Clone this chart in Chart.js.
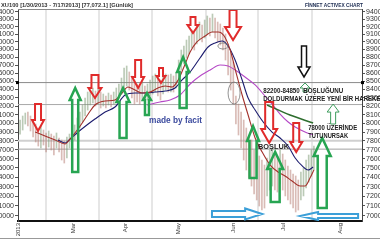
<!DOCTYPE html>
<html lang="tr">
<head>
<meta charset="UTF-8">
<title>XU100 Günlük</title>
<script src="https://cdn.jsdelivr.net/npm/chart.js"></script>
<style>
  html, body { margin: 0; padding: 0; background: #fff; }
  #wrap { width: 380px; height: 240px; }
</style>
</head>
<body>
<div id="wrap"><canvas id="chart" width="380" height="240"></canvas></div>
<script>
// daily bars, 30 Jan - 17 Jul 2013 (high / low per session)
const highs = [80380, 80850, 81200, 81320, 80850, 80270, 79920, 79460, 79690, 79230,
  78890, 79120, 78770, 78550, 78890, 78320, 78090, 77980, 78430, 78770,
  79000, 79810, 80620, 81320, 82150, 82980, 83700, 83940, 84190, 83820,
  84070, 83700, 83460, 83220, 83580, 83340, 83700, 84190, 84680, 85410,
  86660, 86910, 86160, 85660, 85170, 84680, 84430, 84920, 84430, 84680,
  85170, 85660, 85910, 85660, 85170, 85660, 85910, 85790, 85910, 85660,
  86160, 87660, 88940, 89460, 90230, 90760, 91550, 91290, 92080, 92610,
  92210, 92880, 93420, 93150, 93690, 93150, 92610, 92350, 91810, 91020,
  89720, 88680, 87410, 83220, 82260, 81320, 80380, 79460, 78550, 78090,
  76970, 77420, 76310, 75870, 75320, 76090, 76970, 77200, 76750, 76310,
  76970, 76530, 75870, 75220, 74780, 74350, 74140, 73710, 74570, 75000,
  75870, 76420, 76970, 77420];
const lows = [78770, 79230, 79920, 79690, 79120, 78430, 77870, 77420, 77200, 77530,
  76750, 77310, 76970, 76420, 77200, 76750, 75870, 75540, 76090, 77200,
  77530, 78090, 78660, 79460, 80150, 80850, 81550, 82150, 82380, 82030,
  82260, 81790, 82030, 81790, 82150, 81910, 82260, 82620, 82980, 83460,
  83940, 84430, 83940, 82980, 82260, 82500, 82260, 82740, 82150, 82740,
  83220, 83460, 83700, 83220, 82740, 83460, 83940, 83700, 83700, 83700,
  84190, 85170, 86410, 87160, 87920, 88430, 89200, 88940, 89720, 90230,
  89980, 90500, 91020, 90760, 91290, 90500, 89980, 89590, 88940, 87660,
  85790, 83940, 82260, 79920, 78660, 77200, 75870, 74780, 73920, 73070,
  72230, 71610, 70990, 70580, 70780, 72030, 72650, 73070, 72650, 72440,
  73280, 72650, 72030, 71610, 71200, 70790, 70380, 70580, 71610, 72030,
  72860, 73490, 74140, 74780];

// moving averages, read at points along each curve (x = session number)
const redX = [5.8, 9.6, 13.5, 17.3, 19.2, 23.1, 26.2, 28.8, 32.7, 36.5, 39.2, 41.5, 44.2, 46.9,
  50, 53, 55.8, 58.5, 60.8, 63.5, 65.4, 68, 71.2, 73.8, 76.2, 78.5, 80.8, 83, 85.4, 87.7,
  90.4, 93.1, 96.2, 99.2, 101.9, 104.6, 107.7, 109.6, 111.5, 113];
const redY = [79000, 78550, 78090, 77650, 78200, 79690, 81080, 82150, 82620, 82740, 83580, 84310, 83940, 83580,
  83700, 84190, 84430, 84310, 85170, 87160, 88680, 89980, 90760, 91290, 91290, 90760, 88940, 86160, 83340, 80970,
  78320, 76750, 75320, 74570, 74140, 73600, 73070, 73070, 73920, 74780];
const blueX = [14.6, 17.3, 19.2, 22.3, 26.2, 28.8, 32.7, 36.5, 40.4, 44.2, 48.1, 51.9, 55.8, 59.6,
  62.3, 65.4, 69.2, 72.3, 75, 77.7, 80, 82.7, 85.4, 87.7, 90.4, 93.5, 96.9, 100, 103.1,
  105.8, 108.5, 110.8, 112.7];
const blueY = [78090, 77760, 78200, 79000, 79920, 80500, 81320, 81910, 83340, 83580, 83580, 83700, 83820, 84190,
  85170, 86160, 87920, 89330, 89850, 90100, 89460, 87660, 85170, 82980, 81550, 80150, 79000, 78320, 77420,
  76090, 75220, 74780, 75110];
const magX = [48.8, 53.8, 57.7, 61.5, 65.4, 69.2, 73.1, 76.9, 80, 82.7, 86.5, 90.4, 94.2, 96.9,
  100, 103.1, 105.8, 109.6, 112.7];
const magY = [82150, 82500, 82740, 83340, 84680, 85660, 86410, 87030, 86910, 86410, 85540, 84560, 83220, 82260,
  81080, 80150, 79580, 79000, 78660];
const trendX = [95, 103.8, 112.7];
const trendY = [82150, 80970, 80040];

// horizontal levels: gap 84850 / 82200, 78000, last close 77072.1
const levels = [84850, 82200, 78000, 77072];

// axes
const yTicks = [70000, 71000, 72000, 73000, 74000, 75000, 76000, 77000, 78000, 79000, 80000, 81000,
  82000, 83000, 84000, 85000, 86000, 87000, 88000, 89000, 90000, 91000, 92000, 93000, 94000];
const monthPos = [-0.8, 20.4, 40.4, 60.8, 81.9, 101.2, 123];
const monthLabels = ['2013', 'Mar', 'Apr', 'May', 'Jun', 'Jul', 'Aug'];

// hand drawn marks: [tail x, tail value, tip x, tip value, body half width, head half width, head length]
const redArrows = [
  [6.9, 82260, 6.9, 79120, 3, 6, 11],
  [28.8, 85790, 28.8, 82980, 3.5, 6.5, 10],
  [45.4, 87660, 45.4, 84190, 3, 6, 11],
  [54.2, 86660, 54.2, 84800, 2, 4.5, 7],
  [66.5, 93290, 66.5, 91150, 2.5, 5.5, 8],
  [81.9, 94230, 81.9, 90230, 3.5, 8, 13],
  [95.8, 82500, 95.8, 77760, 4, 8, 14],
  [106.2, 80040, 106.2, 76750, 3, 6, 10]
];
const greenArrows = [
  [21.2, 74570, 21.2, 84190, 3, 5.5, 12],
  [39.6, 78320, 39.6, 84190, 3.5, 6.5, 14],
  [48.8, 80970, 48.8, 83580, 2, 4, 7],
  [62.7, 81790, 62.7, 88040, 3.5, 6, 15],
  [89.6, 73920, 89.6, 79690, 3.5, 6, 15],
  [98.1, 71400, 98.1, 76750, 4.5, 8, 17],
  [116.2, 70790, 116.2, 78320, 4.5, 8.5, 18]
];
const thinGreenArrows = [
  [109.6, 83700, 109.6, 84800, 2, 5, 5],
  [120.4, 79920, 120.4, 82260, 2.5, 6, 8]
];
const blackArrows = [[109.2, 89460, 109.2, 85540, 2.5, 6, 10]];
const blueArrows = [
  [73.8, 70180, 93.1, 70180, 3, 5.5, 17],
  [130, 69970, 107.7, 69970, 2, 4, 18]
];
// [x, value, radius x, radius y]
const ellipses = [[78, 89460, 5, 3], [82.3, 83580, 6, 11]];
// [text, x, value, font, colour, max width]
const notes = [
  ['made by facit', 49.6, 80270, 'bold 9px "Liberation Sans", Arial, sans-serif', '#3b4a9e', 53],
  ['82200-84850  BOŞLUĞUNU', 93.5, 83820, 'bold 7px "Liberation Sans", Arial, sans-serif', '#222', 80],
  ['DOLDURMAK ÜZERE YENİ BİR HAREKET', 93.5, 82860, 'bold 7px "Liberation Sans", Arial, sans-serif', '#222', 121],
  ['78000 ÜZERİNDE', 110.8, 79460, 'bold 7px "Liberation Sans", Arial, sans-serif', '#222', 49],
  ['TUTUNURSAK', 110.8, 78550, 'bold 7px "Liberation Sans", Arial, sans-serif', '#222', 40],
  ['BOŞLUK', 91.5, 77310, 'bold 8px "Liberation Sans", Arial, sans-serif', '#222', 31]
];

function arrowPath(ctx, tx, ty, px, py, bw, hw, hl) {
  const dx = px - tx, dy = py - ty, len = Math.hypot(dx, dy);
  const ux = dx / len, uy = dy / len, nx = -uy, ny = ux;
  const bx = px - ux * hl, by = py - uy * hl;
  ctx.beginPath();
  ctx.moveTo(tx + nx * bw, ty + ny * bw);
  ctx.lineTo(bx + nx * bw, by + ny * bw);
  ctx.lineTo(bx + nx * hw, by + ny * hw);
  ctx.lineTo(px, py);
  ctx.lineTo(bx - nx * hw, by - ny * hw);
  ctx.lineTo(bx - nx * bw, by - ny * bw);
  ctx.lineTo(tx - nx * bw, ty - ny * bw);
  ctx.closePath();
}

const drawings = {
  id: 'drawings',
  afterDatasetsDraw(chart) {
    const ctx = chart.ctx, xs = chart.scales.x, ys = chart.scales.y;
    const area = chart.chartArea;
    ctx.save();
    ctx.beginPath();
    ctx.rect(area.left, area.top, area.right - area.left, area.bottom - area.top);
    ctx.clip();
    ctx.lineJoin = 'miter';

    function drawSet(list, color, width) {
      ctx.strokeStyle = color;
      ctx.lineWidth = width;
      list.forEach(a => {
        arrowPath(ctx, xs.getPixelForValue(a[0]), ys.getPixelForValue(a[1]),
          xs.getPixelForValue(a[2]), ys.getPixelForValue(a[3]), a[4], a[5], a[6]);
        ctx.stroke();
      });
    }
    drawSet(redArrows, '#e02b2b', 2);
    drawSet(greenArrows, '#27a552', 2.5);
    drawSet(thinGreenArrows, '#3c9c5c', 1);
    drawSet(blackArrows, '#111', 1.5);
    drawSet(blueArrows, '#3b9fd8', 2);

    ctx.strokeStyle = '#777';
    ctx.lineWidth = 0.8;
    ellipses.forEach(e => {
      ctx.beginPath();
      ctx.ellipse(xs.getPixelForValue(e[0]), ys.getPixelForValue(e[1]), e[2], e[3], 0, 0, Math.PI * 2);
      ctx.stroke();
    });
    ctx.restore();

    ctx.save();
    ctx.textBaseline = 'middle';
    notes.forEach(n => {
      ctx.font = n[3];
      ctx.fillStyle = n[4];
      ctx.fillText(n[0], xs.getPixelForValue(n[1]), ys.getPixelForValue(n[2]), n[5]);
    });
    ctx.restore();
  },
  afterDraw(chart) {
    const ctx = chart.ctx, area = chart.chartArea, ys = chart.scales.y;
    ctx.save();
    // frame top and outer bottom line
    ctx.strokeStyle = '#888';
    ctx.lineWidth = 1;
    ctx.beginPath();
    ctx.moveTo(area.left, area.top + 0.5);
    ctx.lineTo(area.right, area.top + 0.5);
    ctx.stroke();
    ctx.strokeStyle = '#999';
    ctx.beginPath();
    ctx.moveTo(0, 238.5);
    ctx.lineTo(380, 238.5);
    ctx.stroke();
    // level markers on the axes
    const ly = ys.getPixelForValue(levels[0]);
    ctx.fillStyle = '#000';
    ctx.fillRect(area.left - 2, ly - 1.5, 3, 3);
    ctx.fillRect(area.right - 1, ly - 1.5, 3, 3);
    // header
    ctx.textBaseline = 'middle';
    ctx.font = 'bold 6px "Liberation Sans", Arial, sans-serif';
    ctx.fillStyle = '#333';
    ctx.fillText('XU100 [1/30/2013 - 7/17/2013] [77,072.1] [Günlük]', 1, 5, 132);
    ctx.fillStyle = '#1a2a50';
    ctx.fillText('FİNNET ACTIVEX CHART', 305, 5, 58);
    ctx.restore();
  }
};

const barData = highs.map((h, i) => ({ x: i, y: [lows[i], h] }));
const barColors = highs.map((h, i) => {
  if (i === 0) return 'rgba(120,150,110,0.5)';
  const mid = (h + lows[i]) / 2, prev = (highs[i - 1] + lows[i - 1]) / 2;
  return mid >= prev ? 'rgba(120,150,110,0.5)' : 'rgba(180,120,110,0.5)';
});
const pts = (xa, ya) => xa.map((x, i) => ({ x: x, y: ya[i] }));
const lineStyle = { type: 'line', pointRadius: 0, borderWidth: 1.1, fill: false, cubicInterpolationMode: 'monotone' };
const levelColors = ['#8a8a8a', '#a8a8a8', '#d0d0d0', '#a0a0a0'];
const levelWidths = [1, 1, 2, 1];

const datasets = levels.map((v, k) => ({
  type: 'line', data: [{ x: -0.8, y: v }, { x: 131.5, y: v }],
  borderColor: levelColors[k], borderWidth: levelWidths[k], pointRadius: 0, order: 30
}));
datasets.push({
  type: 'bar', data: barData, backgroundColor: barColors, barThickness: 1, grouped: false, order: 20
});
datasets.push(Object.assign({}, lineStyle, { data: pts(magX, magY), borderColor: '#b548c6', order: 4 }));
datasets.push(Object.assign({}, lineStyle, { data: pts(trendX, trendY), borderColor: '#2f6e2f', borderWidth: 1.6, order: 3 }));
datasets.push(Object.assign({}, lineStyle, { data: pts(blueX, blueY), borderColor: '#1c1c6e', order: 2 }));
datasets.push(Object.assign({}, lineStyle, { data: pts(redX, redY), borderColor: '#a3312b', order: 1 }));

const sideAxis = (pos) => ({
  type: 'logarithmic',
  position: pos,
  min: 69470,
  max: 94370,
  afterBuildTicks: s => { s.ticks = yTicks.map(v => ({ value: v })); },
  afterFit: s => { s.width = 18; },
  ticks: { callback: v => String(v), font: { size: 7, family: '"Liberation Sans", Arial, sans-serif' }, color: '#333', padding: 1, autoSkip: false },
  grid: { drawOnChartArea: false, tickLength: 3, color: '#555' },
  border: { color: '#444', width: 1 }
});

new Chart(document.getElementById('chart').getContext('2d'), {
  data: { datasets: datasets },
  options: {
    responsive: false,
    animation: false,
    layout: { padding: { top: 9, left: 0, right: 0, bottom: 0 } },
    plugins: { legend: { display: false }, tooltip: { enabled: false } },
    scales: {
      x: {
        type: 'linear',
        min: -0.8,
        max: 131.5,
        offset: false,
        afterBuildTicks: s => { s.ticks = monthPos.map(v => ({ value: v })); },
        afterFit: s => { s.height = 19; },
        ticks: {
          callback: (v, idx) => monthLabels[idx],
          minRotation: 90, maxRotation: 90, autoSkip: false,
          font: { size: 6, family: '"Liberation Sans", Arial, sans-serif' }, color: '#333', padding: 2
        },
        grid: { color: '#e6e6e6', lineWidth: 2, drawTicks: false },
        border: { color: '#111', width: 2 }
      },
      y: sideAxis('left'),
      y2: sideAxis('right')
    }
  },
  plugins: [drawings]
});
</script>
</body>
</html>
